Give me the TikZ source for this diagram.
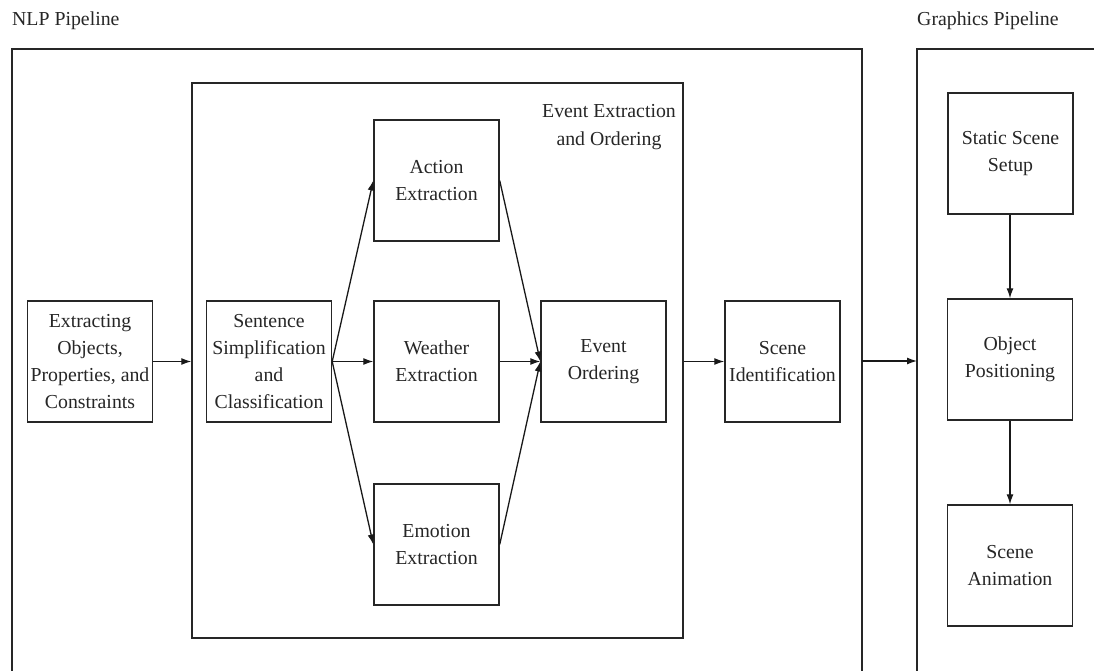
\documentclass[tikz,border=0pt]{standalone}
\usepackage{fontspec}
\setmainfont{Liberation Serif}
\usetikzlibrary{arrows.meta}
\tikzset{
  box/.style={draw=black!85, line width=1.4pt, minimum width=125pt, minimum height=121pt,
    align=center, inner sep=2pt, font=\fontsize{19.8}{27}\selectfont, text=black!85},
  lbl/.style={font=\fontsize{19.8}{27}\selectfont, text=black!85, inner sep=0pt},
  frame/.style={draw=black!85, line width=1.4pt},
  arr/.style={draw=black!90, line width=1.3pt, -{Latex[length=10pt,width=7pt]}}
}
\begin{document}
\begin{tikzpicture}[x=1pt,y=-1pt]
\clip (0,0) rectangle (1094,671);
\fill[white] (0,0) rectangle (1094,671);
% titles
\node[lbl, anchor=base west] (nlpt) at (12,26) {NLP Pipeline};
\node[lbl, anchor=base west] (grt) at (917,26) {Graphics Pipeline};
% outer frames
\draw[frame] (12,700) -- (12,49) -- (862,49) -- (862,700);
\draw[frame] (1120,49) -- (917,49) -- (917,700);
\coordinate (nlpR) at (862,361);
\coordinate (grL) at (917,361);
% event container
\node[frame, minimum width=491pt, minimum height=555pt, inner sep=0pt] (evt) at (437.5,360.5) {};
\node[lbl, align=center, font=\fontsize{19.8}{28}\selectfont] (evtt) at (609,127) {Event Extraction\\and Ordering};
% boxes
\node[box] (ext) at (90,361.5) {Extracting\\Objects,\\Properties, and\\Constraints};
\node[box] (sen) at (269,361.5) {Sentence\\Simplification\\and\\Classification};
\node[box] (act) at (436.5,180.5) {Action\\Extraction};
\node[box] (wea) at (436.5,361.5) {Weather\\Extraction};
\node[box] (emo) at (436.5,544.5) {Emotion\\Extraction};
\node[box] (ord) at (603.5,361.5) {Event\\Ordering};
\node[box, minimum width=115pt] (sid) at (782.5,361.5) {Scene\\Identification};
\node[box] (sta) at (1010.5,153.5) {Static Scene\\Setup};
\node[box] (obj) at (1010,359.5) {Object\\Positioning};
\node[box] (ani) at (1010,565.5) {Scene\\Animation};
% connectors
\draw[arr] (ext.east) -- (ext.east -| evt.west);
\draw[arr] (sen.east) -- (act.west);
\draw[arr] (sen.east) -- (wea.west);
\draw[arr] (sen.east) -- (emo.west);
\draw[arr] (act.east) -- (ord.west);
\draw[arr] (wea.east) -- (ord.west);
\draw[arr] (emo.east) -- (ord.west);
\draw[arr] (ord.east -| evt.east) -- (sid.west);
\draw[arr] (nlpR) -- (grL);
\draw[arr] (sta.south -| obj.north) -- (obj.north);
\draw[arr] (obj.south) -- (ani.north);
\end{tikzpicture}
\end{document}
